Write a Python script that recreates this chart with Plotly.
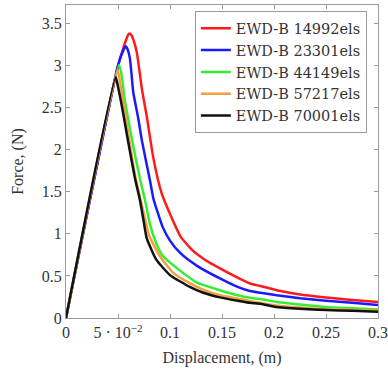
import plotly.graph_objects as go

names = ["EWD-B 14992els", "EWD-B 23301els", "EWD-B 44149els", "EWD-B 57217els", "EWD-B 70001els"]
colors = ["#ff1a1a", "#1a1aff", "#33ee33", "#f2a040", "#111111"]

x_red = [0, 0.049, 0.053, 0.057, 0.0595, 0.0608, 0.063, 0.065, 0.068, 0.0705, 0.073, 0.0776, 0.084, 0.092, 0.1016, 0.110, 0.122, 0.135, 0.148, 0.165, 0.177, 0.187, 0.2026, 0.225, 0.25, 0.275, 0.30]
y_red = [0, 2.95, 3.12, 3.28, 3.36, 3.38, 3.36, 3.30, 3.16, 2.95, 2.72, 2.40, 1.90, 1.48, 1.19, 0.97, 0.80, 0.68, 0.59, 0.48, 0.41, 0.38, 0.33, 0.28, 0.245, 0.215, 0.19]

x_blue = [0, 0.049, 0.053, 0.0574, 0.059, 0.0615, 0.063, 0.0647, 0.0695, 0.0728, 0.077, 0.081, 0.084, 0.093, 0.100, 0.110, 0.126, 0.148, 0.165, 0.177, 0.187, 0.2026, 0.225, 0.25, 0.275, 0.30]
y_blue = [0, 2.95, 3.12, 3.23, 3.20, 3.08, 2.90, 2.68, 2.37, 2.12, 1.86, 1.62, 1.42, 1.08, 0.92, 0.77, 0.62, 0.47, 0.37, 0.32, 0.30, 0.27, 0.235, 0.205, 0.18, 0.155]

x_green = [0, 0.051, 0.054, 0.056, 0.0615, 0.065, 0.071, 0.076, 0.081, 0.087, 0.093, 0.110, 0.126, 0.148, 0.165, 0.177, 0.187, 0.2026, 0.225, 0.25, 0.275, 0.30]
y_green = [0, 3.01, 2.85, 2.63, 2.25, 2.02, 1.66, 1.40, 1.10, 0.88, 0.74, 0.56, 0.42, 0.33, 0.27, 0.24, 0.225, 0.19, 0.16, 0.13, 0.115, 0.10]

x_orange = [0, 0.0497, 0.052, 0.056, 0.061, 0.067, 0.073, 0.080, 0.090, 0.103, 0.118, 0.133, 0.148, 0.165, 0.177, 0.2026, 0.225, 0.25, 0.275, 0.30]
y_orange = [0, 2.95, 2.80, 2.50, 2.10, 1.66, 1.34, 0.98, 0.74, 0.54, 0.42, 0.33, 0.27, 0.23, 0.20, 0.15, 0.125, 0.105, 0.095, 0.085]

x_black = [0, 0.0478, 0.050, 0.052, 0.055, 0.060, 0.066, 0.0711, 0.0744, 0.0776, 0.087, 0.100, 0.119, 0.132, 0.148, 0.165, 0.177, 0.187, 0.2026, 0.225, 0.25, 0.275, 0.30]
y_black = [0, 2.86, 2.75, 2.63, 2.43, 2.08, 1.68, 1.40, 1.17, 0.95, 0.69, 0.51, 0.37, 0.30, 0.245, 0.205, 0.18, 0.17, 0.13, 0.11, 0.095, 0.085, 0.075]

xs = [x_red, x_blue, x_green, x_orange, x_black]
ys = [y_red, y_blue, y_green, y_orange, y_black]

x_tickvals = [0, 0.05, 0.1, 0.15, 0.2, 0.25, 0.3]
x_ticktext = ["0", "5 · 10<sup>−2</sup>", "0.1", "0.15", "0.2", "0.25", "0.3"]
y_tickvals = [0, 0.5, 1, 1.5, 2, 2.5, 3, 3.5]
y_ticktext = ["0", "0.5", "1", "1.5", "2", "2.5", "3", "3.5"]

FONT = "Liberation Serif"

fig = go.Figure()
for n, c, x, y in zip(names, colors, xs, ys):
    fig.add_trace(go.Scatter(x=x, y=y, mode="lines", name=n,
                             line=dict(color=c, width=2.5, shape="spline", smoothing=0.5)))

axis_common = dict(showgrid=False, zeroline=False, showline=True, linecolor="#9a9a9a",
                   linewidth=1.2, mirror="ticks", ticks="inside", ticklen=4,
                   tickcolor="#9a9a9a", automargin=False,
                   tickfont=dict(family=FONT, size=16, color="#333"))

fig.update_layout(
    width=388, height=372,
    margin=dict(l=66, r=10, t=5, b=54),
    paper_bgcolor="white", plot_bgcolor="white",
    font=dict(family=FONT, size=16, color="#333"),
    xaxis=dict(range=[0, 0.3], tickvals=x_tickvals, ticktext=x_ticktext,
               title=dict(text="Displacement, (m)", font=dict(family=FONT, size=16, color="#333"), standoff=11),
               **axis_common),
    yaxis=dict(range=[0, 3.72], tickvals=y_tickvals, ticktext=y_ticktext,
               title=dict(text="Force, (N)", font=dict(family=FONT, size=16, color="#333"), standoff=14),
               **axis_common),
    legend=dict(x=0.413, y=0.98, xanchor="left", yanchor="top",
                bgcolor="white", bordercolor="#9a9a9a", borderwidth=1,
                font=dict(family="DejaVu Serif", size=14.5, color="#333"), tracegroupgap=0),
    showlegend=True,
)

fig.write_html("out.html", post_script="document.body.style.margin='0px';",
               config={"displayModeBar": False})
